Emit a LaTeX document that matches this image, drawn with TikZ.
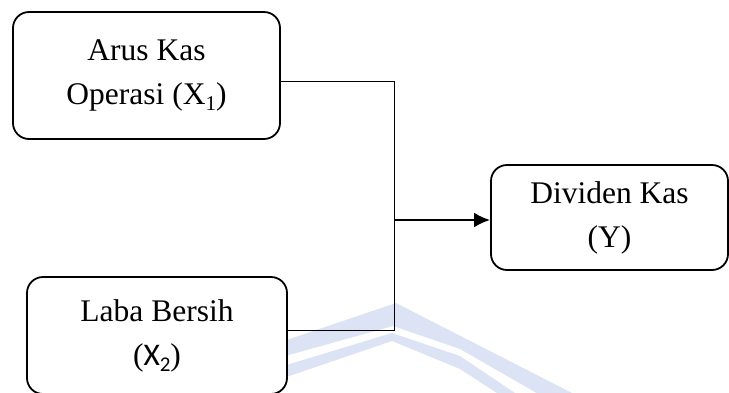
\documentclass[tikz,border=0pt]{standalone}
\usepackage{fontspec}
\setmainfont{Liberation Serif}
\newfontfamily\xsans{Carlito}
\usetikzlibrary{arrows.meta}
\definecolor{wmblue}{RGB}{220,227,244}
% lowered, fairly large index digit
\newcommand{\idx}[1]{\raisebox{-6pt}{\fontsize{21}{21}\selectfont #1}}
\begin{document}
\begin{tikzpicture}[x=1pt,y=-1pt,
  varbox/.style={draw, line width=1.8pt, rounded corners=16pt, fill=white,
    align=center, inner sep=0pt, font=\fontsize{31.5}{44}\selectfont},
  link/.style={line width=0.9pt},
  flow/.style={line width=2.4pt, -{Latex[length=16pt,width=15pt]}},
  wmark/.style={fill=wmblue, draw=none},
]
\useasboundingbox (0,0) rectangle (729,392);
% faint chevron in the background
\fill[wmark] (260,349) -- (396,303) -- (576,395) -- (540,395) -- (460,349)
  -- (393,326) -- (260,363) -- cycle;
\fill[wmark] (260,373) -- (392,333) -- (460,356) -- (518,395) -- (500,395)
  -- (460,369) -- (392,341) -- (260,386) -- cycle;

% variables
\node[varbox, minimum width=267pt, minimum height=127pt] (ako) at (146.5,75.5)
  {Arus Kas\\Operasi (X\idx{1})};
\node[varbox, minimum width=260pt, minimum height=117pt] (lb) at (157,335.5)
  {Laba Bersih\\({\xsans X}\idx{\xsans 2})};
\node[varbox, minimum width=237pt, minimum height=105pt] (dk) at (609.5,217.5)
  {Dividen Kas\\(Y)};

% connectors
\coordinate (top) at (394,81);
\coordinate (bot) at (394,330);
\coordinate (mid) at (394,220);
\draw[link] ([yshift=-5.5pt]ako.east) -- (top) -- (bot) -- ([yshift=5.5pt]lb.east);
\draw[flow] (mid) -- (mid -| dk.west);
\end{tikzpicture}
\end{document}
